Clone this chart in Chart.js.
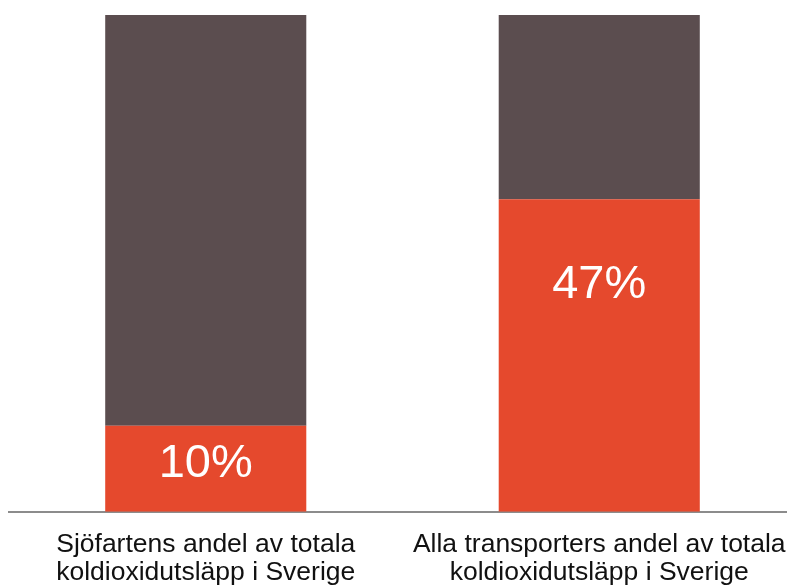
<!DOCTYPE html>
<html>
<head>
<meta charset="utf-8">
<script src="https://cdn.jsdelivr.net/npm/chart.js@4"></script>
<style>
html,body{margin:0;padding:0;background:#fff;overflow:hidden;}
#wrap{width:796px;height:585px;position:relative;}
</style>
</head>
<body>
<div id="wrap"><canvas id="c" width="796" height="585"></canvas></div>
<script>
const categories = [
  ["Sjöfartens andel av totala", "koldioxidutsläpp i Sverige"],
  ["Alla transporters andel av totala", "koldioxidutsläpp i Sverige"]
];
const shareValues = [17.3, 62.9];   // orange segment heights as drawn
const restValues = [82.7, 37.1];    // dark segment heights as drawn
const labelValues = [10, 46];       // printed percentages (label anchor)
const labelTexts = ["10%", "47%"];

const labelPlugin = {
  id: 'pctLabels',
  afterDatasetsDraw(chart) {
    const ctx = chart.ctx;
    const meta = chart.getDatasetMeta(0);
    const ys = chart.scales.y;
    ctx.save();
    ctx.fillStyle = '#ffffff';
    ctx.font = '47px "Liberation Sans", Arial, sans-serif';
    ctx.textAlign = 'center';
    ctx.textBaseline = 'middle';
    meta.data.forEach((bar, i) => {
      ctx.fillText(labelTexts[i], bar.x, ys.getPixelForValue(labelValues[i]) + 2);
    });
    ctx.restore();
  }
};

new Chart(document.getElementById('c'), {
  type: 'bar',
  data: {
    labels: categories,
    datasets: [
      { data: shareValues, backgroundColor: '#E5492D', borderWidth: 0 },
      { data: restValues, backgroundColor: '#5B4D4F', borderWidth: 0 }
    ]
  },
  options: {
    responsive: false,
    animation: false,
    events: [],
    layout: { padding: { left: 9, right: 0, top: 15, bottom: -21 } },
    plugins: { legend: { display: false }, tooltip: { enabled: false } },
    datasets: { bar: { barPercentage: 1.0, categoryPercentage: 0.511 } },
    scales: {
      x: {
        stacked: true,
        grid: { display: false, drawTicks: false },
        border: { display: true, color: '#8c8c8c', width: 2 },
        afterFit(scale) { scale.paddingLeft = 0; scale.paddingRight = 0; },
        ticks: {
          color: '#111111',
          padding: 19,
          maxRotation: 0,
          font: { family: '"Liberation Sans", Arial, sans-serif', size: 26.5, lineHeight: 1.06 }
        }
      },
      y: {
        stacked: true,
        display: false,
        min: 0,
        max: 100
      }
    }
  },
  plugins: [labelPlugin]
});
</script>
</body>
</html>
